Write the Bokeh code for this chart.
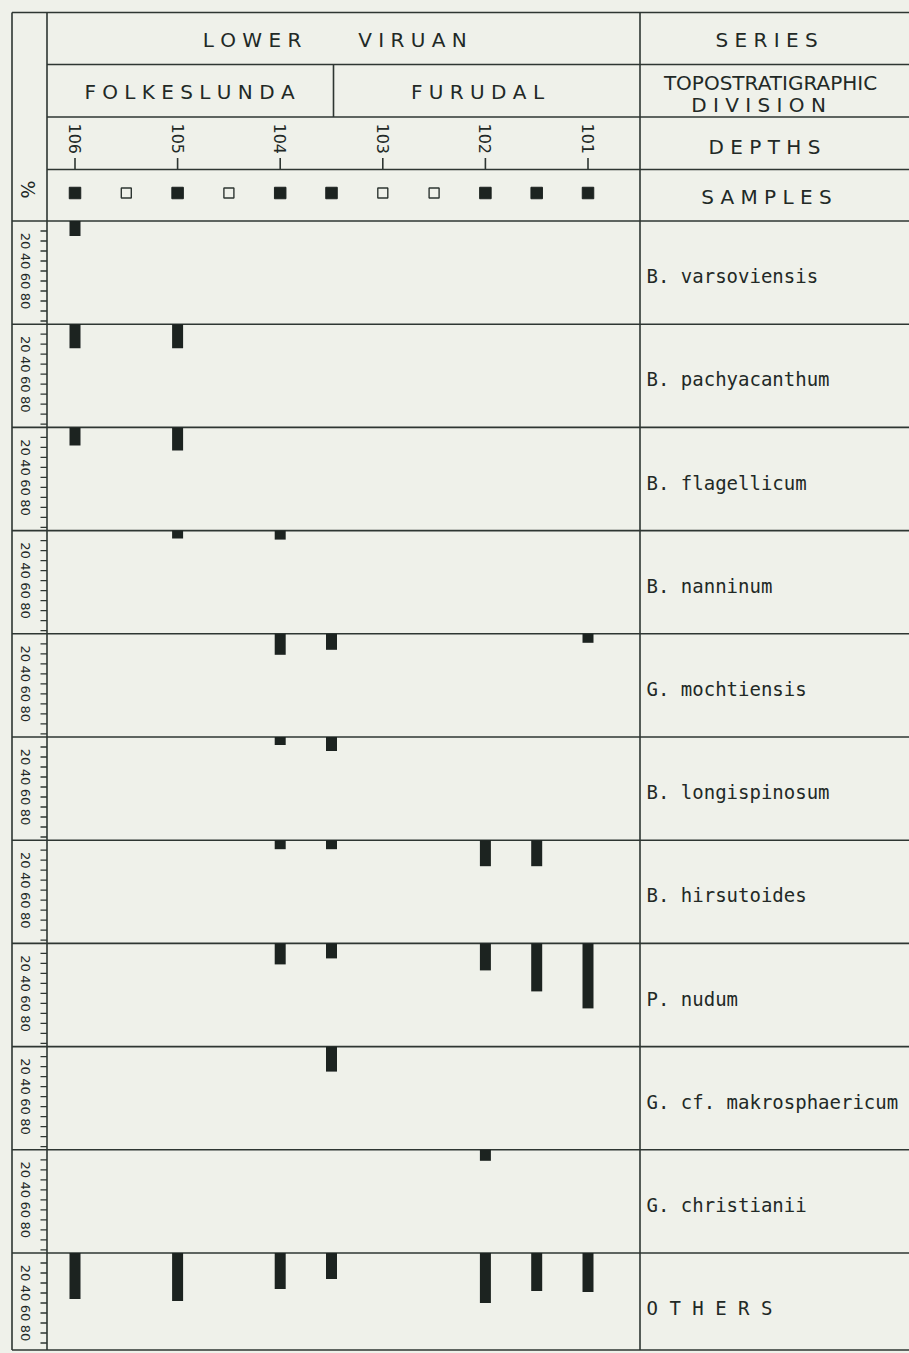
import math
from bokeh.plotting import figure
from bokeh.models import Range1d
from bokeh.core.properties import value
from bokeh.embed import file_html
from bokeh.resources import INLINE

# ---------------- data ----------------
sample_index = [0, 1, 2, 3, 4, 5, 6, 7, 8, 9, 10]
sample_filled = [1, 0, 1, 0, 1, 1, 0, 0, 1, 1, 1]   # 1 = filled square, 0 = open square
depth_labels = ["106", "105", "104", "103", "102", "101"]
depth_at_sample = [0, 2, 4, 6, 8, 10]

species = ["B. varsoviensis", "B. pachyacanthum", "B. flagellicum", "B. nanninum",
           "G. mochtiensis", "B. longispinosum", "B. hirsutoides", "P. nudum",
           "G. cf. makrosphaericum", "G. christianii", "O T H E R S"]

pct_b_varsoviensis    = [15, 0, 0, 0, 0, 0, 0, 0, 0, 0, 0]
pct_b_pachyacanthum   = [24, 0, 24, 0, 0, 0, 0, 0, 0, 0, 0]
pct_b_flagellicum     = [18, 0, 23, 0, 0, 0, 0, 0, 0, 0, 0]
pct_b_nanninum        = [0, 0, 8, 0, 9, 0, 0, 0, 0, 0, 0]
pct_g_mochtiensis     = [0, 0, 0, 0, 21, 16, 0, 0, 0, 0, 9]
pct_b_longispinosum   = [0, 0, 0, 0, 8, 14, 0, 0, 0, 0, 0]
pct_b_hirsutoides     = [0, 0, 0, 0, 9, 9, 0, 0, 26, 26, 0]
pct_p_nudum           = [0, 0, 0, 0, 21, 15, 0, 0, 27, 48, 65]
pct_g_makrosphaericum = [0, 0, 0, 0, 0, 25, 0, 0, 0, 0, 0]
pct_g_christianii     = [0, 0, 0, 0, 0, 0, 0, 0, 11, 0, 0]
pct_others            = [46, 0, 48, 0, 36, 26, 0, 0, 50, 38, 39]

pct_table = [pct_b_varsoviensis, pct_b_pachyacanthum, pct_b_flagellicum, pct_b_nanninum,
             pct_g_mochtiensis, pct_b_longispinosum, pct_b_hirsutoides, pct_p_nudum,
             pct_g_makrosphaericum, pct_g_christianii, pct_others]

scale_ticks = [10, 20, 30, 40, 50, 60, 70, 80, 90, 100]
scale_labels = ["20", "40", "60", "80"]
scale_label_pct = [20, 40, 60, 80]

series_words = ["L O W E R", "V I R U A N"]
division_words = ["F O L K E S L U N D A", "F U R U D A L"]
right_headers = ["S E R I E S", "TOPOSTRATIGRAPHIC", "D I V I S I O N", "D E P T H S", "S A M P L E S"]
percent_sign = "%"

# ---------------- style / layout ----------------
BG = "#eff1ea"
INK = "#2e3632"
TXT = "#222926"
BAR = "#1c2320"
FONT = value("DejaVu Sans")
MONO = value("DejaVu Sans Mono")

W, H = 909, 1353
OFF = 0
X_SAMPLE0 = 74.5      # page px of first sample
DX = 51.3             # page px per sample step
Y_ROW0 = 220.5        # page px of the first species row
K = 1.0               # page px per percent
ROW_PX = 103.2
ROW_U = ROW_PX / K


def ux(px):
    return (px - X_SAMPLE0) / DX


def uy(py):
    return (py - Y_ROW0) / K


X_L, X_R = ux(OFF), ux(OFF + W)
Y_T, Y_B = uy(OFF), uy(OFF + H)

p = figure(width=W, height=H, x_range=Range1d(X_L, X_R), y_range=Range1d(Y_B, Y_T),
           output_backend="svg", toolbar_location=None, min_border=0,
           x_axis_location=None, y_axis_location=None,
           background_fill_color=BG, border_fill_color=BG, outline_line_color=None)
p.grid.visible = False

# frame geometry (page px)
LEFT = 11.5
PCTDIV = 46.5
RDIV = 639.5
TOP = 12.0
BOTTOM = 1349.5
EDGE = OFF + W
hdr_lines = [64.0, 116.5, 169.0]
DIV_X = 333.0

x0, y0, x1, y1 = [], [], [], []


def seg(a, b, c, d):
    x0.append(a); y0.append(b); x1.append(c); y1.append(d)


seg(ux(LEFT), uy(TOP), ux(EDGE), uy(TOP))
for hy in hdr_lines:
    seg(ux(PCTDIV), uy(hy), ux(EDGE), uy(hy))
n_rows = len(species)
for i in range(n_rows):
    seg(ux(LEFT), i * ROW_U, ux(EDGE), i * ROW_U)
seg(ux(LEFT), uy(BOTTOM), ux(EDGE), uy(BOTTOM))
for vx in (LEFT, PCTDIV, RDIV):
    seg(ux(vx), uy(TOP), ux(vx), uy(BOTTOM))
seg(ux(DIV_X), uy(hdr_lines[0]), ux(DIV_X), uy(hdr_lines[1]))
p.segment(x0=x0, y0=y0, x1=x1, y1=y1, line_color=INK, line_width=1.6)

# percent scale ticks per row
tx0, ty0, tx1, ty1 = [], [], [], []
lx, ly, lt = [], [], []
for i in range(n_rows):
    base = i * ROW_U
    row_end = min((i + 1) * ROW_U, uy(BOTTOM))
    for t in scale_ticks:
        if base + t < row_end - 1:
            tx0.append(ux(40.0)); ty0.append(base + t); tx1.append(ux(PCTDIV)); ty1.append(base + t)
    for lab, v in zip(scale_labels, scale_label_pct):
        lx.append(ux(24.5)); ly.append(base + v); lt.append(lab)
p.segment(x0=tx0, y0=ty0, x1=tx1, y1=ty1, line_color=INK, line_width=1.3)
p.text(x=lx, y=ly, text=lt, angle=-math.pi / 2, text_align="center", text_baseline="middle",
       text_font=FONT, text_font_size="13px", text_color=TXT)

# bars
bx, btop, bbot = [], [], []
for i, vals in enumerate(pct_table):
    base = i * ROW_U
    for s, v in zip(sample_index, vals):
        if v > 0:
            bx.append(s); btop.append(base); bbot.append(base + v)
p.vbar(x=bx, top=btop, bottom=bbot, width=11 / DX, fill_color=BAR, line_color=None)

# samples row
filled_x = [s for s, f in zip(sample_index, sample_filled) if f]
open_x = [s for s, f in zip(sample_index, sample_filled) if not f]
Y_SAMPLES = uy(192.5)
p.scatter(x=filled_x, y=[Y_SAMPLES] * len(filled_x), marker="square", size=11.5,
          fill_color=BAR, line_color=BAR)
p.scatter(x=open_x, y=[Y_SAMPLES] * len(open_x), marker="square", size=10,
          fill_color=BG, line_color=INK, line_width=1.4)

# depths
p.segment(x0=depth_at_sample, y0=[uy(157.5)] * len(depth_at_sample),
          x1=depth_at_sample, y1=[uy(169.0)] * len(depth_at_sample), line_color=INK, line_width=1.6)
p.text(x=depth_at_sample, y=[uy(153.5)] * len(depth_at_sample), text=depth_labels,
       angle=-math.pi / 2, text_align="right", text_baseline="middle",
       text_font=FONT, text_font_size="16px", text_color=TXT)

# header texts
p.text(x=[ux(251.5), ux(412.0)], y=[uy(39.0)] * 2, text=series_words,
       text_align="center", text_baseline="middle", text_font=FONT, text_font_size="20px", text_color=TXT)
p.text(x=[ux(189.0), ux(477.0)], y=[uy(91.0)] * 2, text=division_words,
       text_align="center", text_baseline="middle", text_font=FONT, text_font_size="20px", text_color=TXT)
p.text(x=[ux(766.0), ux(770.0), ux(758.0), ux(764.0), ux(766.0)],
       y=[uy(39.5), uy(82.0), uy(104.5), uy(146.5), uy(196.0)],
       text=right_headers, text_align="center", text_baseline="middle", text_font=FONT,
       text_font_size="20px", text_color=TXT)
p.text(x=[ux(27.0)], y=[uy(189.0)], text=[percent_sign], angle=-math.pi / 2,
       text_align="center", text_baseline="middle", text_font=FONT, text_font_size="19px", text_color=TXT)

# species labels
sp_y = [i * ROW_U + ROW_U / 2 + 3.5 / K for i in range(n_rows)]
p.text(x=[ux(646.0)] * n_rows, y=sp_y, text=species, text_align="left", text_baseline="middle",
       text_font=MONO, text_font_size="19px", text_color=TXT)

html = file_html(p, INLINE, title="Acritarch distribution")
html = html.replace("<head>", "<head><style>body{background:%s;}</style>" % BG, 1)
open("out.html", "w").write(html)
